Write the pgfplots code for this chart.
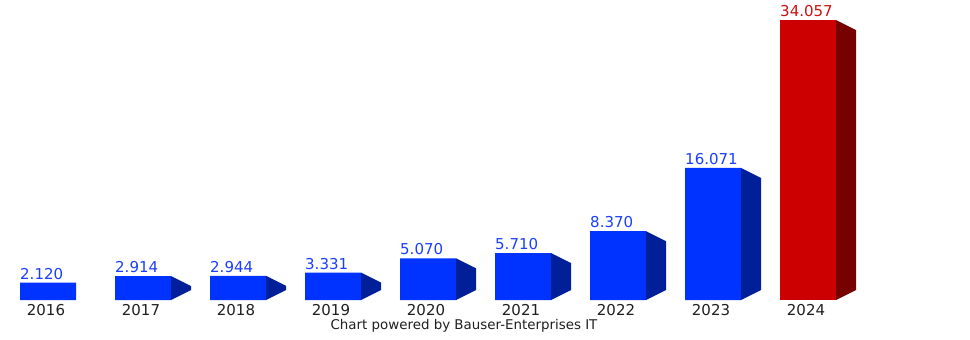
\documentclass[border=0pt]{standalone}
\usepackage{pgfplots}
\pgfplotsset{compat=1.18}
\usepackage{pgfplotstable}
\usepackage{fontspec}
\setmainfont{DejaVu Sans}
\definecolor{bfront}{HTML}{0033FF}
\definecolor{bside}{HTML}{001F99}
\definecolor{rfront}{HTML}{CC0000}
\definecolor{rside}{HTML}{770000}
\definecolor{btext}{HTML}{1A3DFF}
\definecolor{rtext}{HTML}{CC1111}

\pgfplotstableread{
x h
0 2.120
1 2.914
2 2.944
3 3.331
4 5.070
5 5.710
6 8.370
7 16.071
}\bluedata
\pgfplotstableread{
x h
8 34.057
}\reddata

\pgfdeclareplotmark{sideface}{%
  \pgfmathsetmacro\hh{\hval*8.22}%
  \pgfpathmoveto{\pgfpoint{28bp}{0bp}}%
  \pgfpathlineto{\pgfpoint{48bp}{-10bp}}%
  \pgfpathlineto{\pgfpoint{48bp}{-\hh bp+10bp}}%
  \pgfpathlineto{\pgfpoint{28bp}{-\hh bp}}%
  \pgfpathclose
  \pgfusepathqfill
}

\begin{document}
\begin{tikzpicture}
\useasboundingbox (0,0) rectangle (970bp,340bp);
\begin{axis}[
  at={(0.5bp,40bp)}, anchor=south west,
  x=95bp, y=8.22bp,
  xmin=-0.5, xmax=8.5, ymin=0, ymax=35,
  axis line style={draw=none},
  major tick length=0pt,
  xtick={0,...,8},
  xticklabels={2016,2017,2018,2019,2020,2021,2022,2023,2024},
  ytick=\empty,
  xticklabel style={inner sep=0pt, anchor=north, yshift=-4bp, xshift=-2bp,
    font=\fontsize{15bp}{18bp}\selectfont, text=black!88},
  clip=false,
  /pgf/number format/assume math mode=true,
]
\addplot[ybar, bar width=56bp, fill=bfront, draw=none,
  nodes near coords={\pgfmathprintnumber[fixed zerofill,precision=3]{\pgfplotspointmeta}},
  every node near coord/.append style={anchor=south west, xshift=-28bp, yshift=3bp,
    inner sep=0pt, text=btext, font=\fontsize{15bp}{18bp}\selectfont}]
  table[x=x,y=h] {\bluedata};
\addplot[ybar, bar width=56bp, fill=rfront, draw=none,
  nodes near coords={\pgfmathprintnumber[fixed zerofill,precision=3]{\pgfplotspointmeta}},
  every node near coord/.append style={anchor=south west, xshift=-28bp, yshift=3bp,
    inner sep=0pt, text=rtext, font=\fontsize{15bp}{18bp}\selectfont}]
  table[x=x,y=h] {\reddata};
\addplot[only marks, mark=sideface, fill=bside, draw=none,
  restrict x to domain=0.5:7.5,
  visualization depends on={rawy \as \hval}]
  table[x=x,y=h] {\bluedata};
\addplot[only marks, mark=sideface, fill=rside, draw=none,
  visualization depends on={rawy \as \hval}]
  table[x=x,y=h] {\reddata};
\end{axis}
\node[anchor=base, inner sep=0pt, font=\fontsize{13.4bp}{16bp}\selectfont, text=black!88]
  at (464bp,11bp) {Chart powered by Bauser-Enterprises IT};
\end{tikzpicture}
\end{document}
